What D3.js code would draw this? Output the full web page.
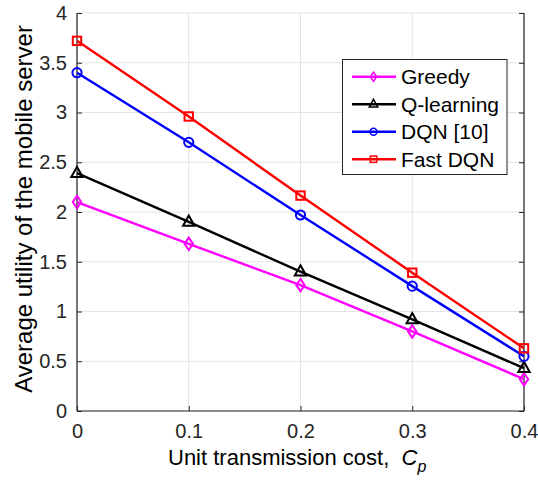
<!DOCTYPE html>
<html>
<head>
<meta charset="utf-8">
<script src="https://cdn.jsdelivr.net/npm/d3@7"></script>
<style>
  body { margin: 0; background: #fff; }
  svg { font-family: "Liberation Sans", Arial, sans-serif; }
</style>
</head>
<body>
<div id="chart"></div>
<script>
// DATA
const costs = [0, 0.1, 0.2, 0.3, 0.4];
const greedy = [2.1, 1.68, 1.265, 0.8, 0.32];
const qLearning = [2.39, 1.9, 1.4, 0.92, 0.43];
const dqn = [3.4, 2.7, 1.97, 1.255, 0.55];
const fastDqn = [3.72, 2.96, 2.165, 1.39, 0.63];
const xTicks = [0, 0.1, 0.2, 0.3, 0.4];
const yTicks = [0, 0.5, 1, 1.5, 2, 2.5, 3, 3.5, 4];

const series = [
  { name: "Greedy", values: greedy, color: "#ff00ff", marker: "diamond" },
  { name: "Q-learning", values: qLearning, color: "#000000", marker: "triangle" },
  { name: "DQN [10]", values: dqn, color: "#0000ff", marker: "circle" },
  { name: "Fast DQN", values: fastDqn, color: "#ff0000", marker: "square" }
];

// SIZE
const w = 538;
const h = 484;
const margin = { left: 77, right: 14, top: 13, bottom: 73 };

const svg = d3.select("#chart").append("svg").attr("width", w).attr("height", h);

const x = d3.scaleLinear().domain([0, 0.4]).range([margin.left, w - margin.right]);
const y = d3.scaleLinear().domain([0, 4]).range([h - margin.bottom, margin.top]);

const axisColor = "#262626";

// GRID
svg.append("g").selectAll("line").data(xTicks).enter().append("line")
  .attr("x1", d => x(d)).attr("x2", d => x(d))
  .attr("y1", y(0)).attr("y2", y(4))
  .attr("stroke", "#e3e3e3").attr("stroke-width", 1);
svg.append("g").selectAll("line").data(yTicks).enter().append("line")
  .attr("x1", x(0)).attr("x2", x(0.4))
  .attr("y1", d => y(d)).attr("y2", d => y(d))
  .attr("stroke", "#e3e3e3").attr("stroke-width", 1);

// AXES
const xAxis = d3.axisBottom(x).tickValues(xTicks).tickSize(-5).tickPadding(13)
  .tickFormat(d => d === 0 ? "0" : d3.format(".1f")(d));
const yAxis = d3.axisLeft(y).tickValues(yTicks).tickSize(-5).tickPadding(10)
  .tickFormat(d => String(d));

const gx = svg.append("g").attr("transform", "translate(0," + y(0) + ")").call(xAxis);
const gy = svg.append("g").attr("transform", "translate(" + x(0) + ",0)").call(yAxis);
const gr = svg.append("g").attr("transform", "translate(" + x(0.4) + ",0)")
  .call(d3.axisRight(y).tickValues(yTicks).tickSize(-5).tickFormat(""));

[gx, gy, gr].forEach(g => {
  g.select(".domain").attr("stroke", axisColor).attr("stroke-width", 1.2);
  g.selectAll(".tick line").attr("stroke", axisColor);
  g.selectAll(".tick text").attr("fill", "#262626").style("font-size", "20px");
});
gx.select(".domain").attr("d", "M" + x(0) + ",0H" + x(0.4));
gy.select(".domain").attr("d", "M0," + y(0) + "V" + y(4));
gr.select(".domain").attr("d", "M0," + y(0) + "V" + y(4));

// LABELS
svg.append("text")
  .attr("x", 168).attr("y", 465)
  .style("font-size", "22px").attr("fill", "#000")
  .html('Unit transmission cost,&#160; <tspan font-style="italic">C</tspan><tspan font-style="italic" font-size="16px" dy="7">p</tspan>');

svg.append("text")
  .attr("transform", "translate(32,209) rotate(-90)")
  .attr("text-anchor", "middle")
  .style("font-size", "24px").attr("fill", "#000")
  .text("Average utility of the mobile server");

// MARKERS
function drawMarker(g, type, color, cx, cy) {
  if (type === "square") {
    g.append("rect").attr("x", cx - 4.2).attr("y", cy - 4.2).attr("width", 8.4).attr("height", 8.4)
      .attr("fill", "none").attr("stroke", color).attr("stroke-width", 2);
  } else if (type === "circle") {
    g.append("circle").attr("cx", cx).attr("cy", cy).attr("r", 4.6)
      .attr("fill", "none").attr("stroke", color).attr("stroke-width", 2);
  } else if (type === "triangle") {
    g.append("path")
      .attr("d", `M${cx},${cy - 6.5}L${cx + 5.7},${cy + 3.7}L${cx - 5.7},${cy + 3.7}Z`)
      .attr("fill", "none").attr("stroke", color).attr("stroke-width", 2);
  } else if (type === "diamond") {
    g.append("path")
      .attr("d", `M${cx},${cy - 6.2}L${cx + 4.2},${cy}L${cx},${cy + 6.2}L${cx - 4.2},${cy}Z`)
      .attr("fill", "none").attr("stroke", color).attr("stroke-width", 2);
  }
}

const line = d3.line().x((d, i) => x(costs[i])).y(d => y(d));

series.forEach(s => {
  const g = svg.append("g");
  g.append("path").datum(s.values).attr("d", line)
    .attr("fill", "none").attr("stroke", s.color).attr("stroke-width", 2.4);
  s.values.forEach((v, i) => drawMarker(g, s.marker, s.color, x(costs[i]), y(v)));
});

// LEGEND
const lg = svg.append("g");
lg.append("rect").attr("x", 342.5).attr("y", 59.5).attr("width", 164.5).attr("height", 115)
  .attr("fill", "#fff").attr("stroke", axisColor).attr("stroke-width", 1);
series.forEach((s, i) => {
  const ly = 76.7 + i * 27.5;
  lg.append("line").attr("x1", 352).attr("x2", 396).attr("y1", ly).attr("y2", ly)
    .attr("stroke", s.color).attr("stroke-width", 2.4);
  const mg = lg.append("g").attr("transform", `translate(373.5,${ly}) scale(0.75) translate(-373.5,${-ly})`);
  drawMarker(mg, s.marker, s.color, 373.5, ly);
  lg.append("text").attr("x", 401).attr("y", ly + 7.5)
    .style("font-size", "21px").attr("fill", "#000").text(s.name);
});
</script>
</body>
</html>
